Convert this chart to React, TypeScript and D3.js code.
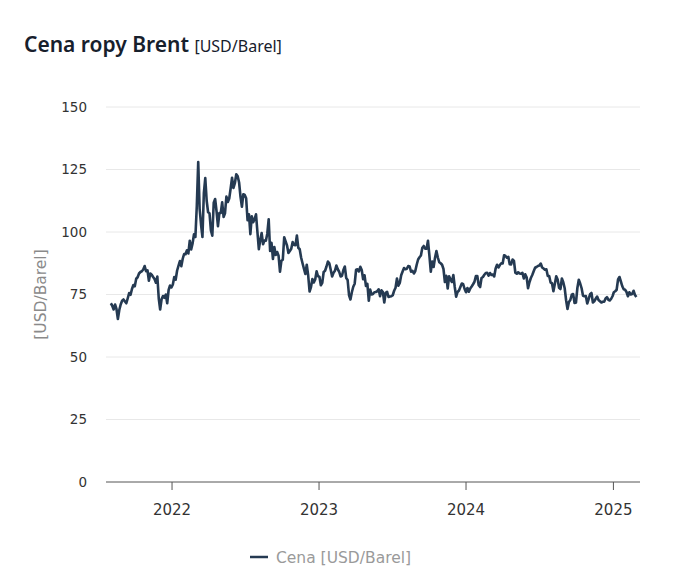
import * as d3 from "d3";
import React from "react";

const WIDTH = 697;
const HEIGHT = 571;
const FONT = "'DejaVu Sans', sans-serif";
const TITLE_FONT = "'Noto Sans', sans-serif";
const LINE_COLOR = "#253a52";

// Brent close, roughly twice a week (Mon / Thu)
const brent2021 = [
  71.5, 70.5, 69.0, 71.0, 69.2, 65.2, 68.8, 71.0, 72.5,
  73.0, 72.2, 71.5, 73.5, 75.6, 74.9, 77.2, 78.8, 78.3,
  81.3, 81.9, 83.4, 84.0, 84.3, 85.0, 86.4, 84.3,
  84.7, 80.5, 83.4, 82.9, 82.0, 81.2, 79.7, 82.2, 73.4,
  69.0, 73.1, 74.4, 73.7, 75.0, 71.5, 76.8, 78.6, 77.8,
];
const brent2022 = [
  79.0, 82.0, 80.9, 84.5, 86.5, 88.4, 86.3, 89.3, 91.2,
  91.1, 92.7, 91.4, 96.5, 93.0, 95.4, 99.1, 98.0,
  110.5, 128.0, 109.3, 103.0, 98.0, 115.6, 121.6, 112.5, 107.9,
  107.5, 100.6, 98.5, 111.7, 113.2, 108.3, 102.3, 107.6,
  107.6, 111.9, 106.0, 107.5, 114.2, 112.0, 113.4, 117.4, 121.7,
  117.6, 119.5, 123.1, 122.3, 119.8, 114.1, 110.1, 115.1, 114.8,
  113.5, 104.7, 107.1, 99.1, 106.3, 103.9, 105.2, 107.1,
  100.0, 93.1, 96.7, 99.6, 95.1, 96.6, 96.5, 99.3, 105.1,
  92.4, 95.7, 89.2, 94.0, 90.8, 92.0, 90.5, 84.1, 88.5,
  88.9, 97.9, 96.2, 94.6, 91.6, 92.4, 93.3, 96.0, 94.8,
  94.7, 98.6, 93.7, 93.1, 89.8, 87.5, 85.3, 83.2,
  86.9, 82.7, 76.2, 78.0, 81.2, 79.8, 81.0, 84.3, 82.3,
];
const brent2023 = [
  82.1, 78.7, 79.7, 84.0, 84.5, 86.2, 88.2, 87.5, 84.9,
  82.2, 83.7, 84.5, 86.6, 85.1, 84.1, 82.2, 82.5,
  84.8, 86.2, 81.6, 80.8, 74.7, 73.0, 75.9, 78.1, 79.3,
  84.9, 85.1, 84.2, 86.1, 84.8, 81.1, 82.7, 78.4,
  79.3, 72.5, 77.0, 75.0, 75.2, 75.9, 76.0, 76.3, 77.1,
  74.3, 76.7, 76.0, 71.8, 75.7, 76.1, 74.0, 74.2, 74.3,
  74.7, 76.5, 77.7, 81.4, 78.5, 79.6, 82.7, 84.2, 85.6,
  85.1, 85.3, 86.4, 86.2, 84.1, 84.5, 83.4, 84.4, 86.9,
  89.0, 89.9, 90.6, 93.7, 94.4, 93.3, 93.3, 96.5,
  90.7, 84.1, 88.2, 86.0, 89.7, 92.4, 89.8, 87.9, 87.5,
  86.9, 85.2, 80.0, 82.5, 77.4, 82.3, 81.0, 80.0, 82.8,
  78.0, 74.1, 76.0, 76.6, 78.0, 79.4, 79.1, 77.2,
];
const brent2024 = [
  75.9, 77.6, 76.1, 77.4, 78.2, 79.1, 80.1, 82.4, 82.4,
  78.7, 78.0, 81.6, 82.0, 82.9, 83.6, 83.7, 82.5, 83.6,
  82.8, 83.0, 82.2, 85.4, 86.9, 85.8, 86.8, 87.5,
  87.4, 90.7, 90.4, 89.7, 90.1, 87.1, 87.0, 89.0, 88.4,
  83.7, 83.3, 83.9, 83.4, 83.3, 83.7, 81.4, 83.1, 81.9,
  77.5, 79.9, 81.6, 82.8, 84.3, 85.7, 86.0, 86.4,
  86.6, 87.4, 85.8, 85.4, 84.9, 85.1, 82.4, 82.4, 79.8,
  79.5, 76.3, 79.2, 82.3, 81.0, 77.7, 77.2, 81.4, 79.9,
  77.5, 72.7, 69.2, 72.0, 72.8, 74.9, 75.2, 71.6, 71.8,
  77.6, 80.9, 79.4, 77.5, 74.5, 74.3, 74.4, 71.4, 73.2,
  75.1, 75.6, 71.8, 72.3, 73.3, 74.2, 72.8, 72.3,
  71.8, 72.1, 72.1, 73.4, 73.9, 72.9, 72.6, 73.3, 74.4,
];
const brent2025 = [
  75.9, 76.3, 76.9, 81.0, 82.0, 80.2, 78.3, 77.1, 76.9,
  76.0, 74.3, 75.9, 75.0, 75.2, 76.5, 74.8, 74.0,
];

const seriesByYear: [Date, number[]][] = [
  [new Date(2021, 7, 2), brent2021],
  [new Date(2022, 0, 3), brent2022],
  [new Date(2023, 0, 2), brent2023],
  [new Date(2024, 0, 1), brent2024],
  [new Date(2025, 0, 2), brent2025],
];

const yTicks = [0, 25, 50, 75, 100, 125, 150];
const xTickYears = [2022, 2023, 2024, 2025];

type Pt = { date: Date; value: number };

const points: Pt[] = seriesByYear.flatMap(([start, vals]) =>
  vals.map((v, i) => ({
    date: new Date(start.getTime() + i * 3.5 * 864e5),
    value: v,
  }))
);

export default function App() {
  const x = d3
    .scaleTime()
    .domain([new Date(2021, 6, 21), new Date(2025, 2, 8)])
    .range([106, 640]);
  const y = d3.scaleLinear().domain([0, 150]).range([482, 107]);

  const line = d3
    .line<Pt>()
    .x((d) => x(d.date))
    .y((d) => y(d.value));

  return (
    <svg
      width={WIDTH}
      height={HEIGHT}
      style={{ position: "absolute", left: 0, top: 0, background: "#fff" }}
      fontFamily={FONT}
    >
      <text x={24} y={52} fill="#17202c" fontFamily={TITLE_FONT}>
        <tspan fontSize={21} fontWeight={600}>Cena ropy Brent </tspan>
        <tspan fontSize={16}>[USD/Barel]</tspan>
      </text>

      {yTicks.map((t) => (
        <g key={t}>
          {t > 0 && (
            <line x1={106} x2={640} y1={y(t)} y2={y(t)} stroke="#e8e8e8" />
          )}
          <text
            x={87}
            y={y(t)}
            dy="0.35em"
            textAnchor="end"
            fontSize={13.5}
            fill="#333"
          >
            {t}
          </text>
        </g>
      ))}

      <text
        transform={`translate(46,${(y(0) + y(150)) / 2}) rotate(-90)`}
        textAnchor="middle"
        fontSize={15.5}
        fill="#8a8a8a"
      >
        [USD/Barel]
      </text>

      <line x1={106} x2={640} y1={y(0)} y2={y(0)} stroke="#555" />
      {xTickYears.map((yr) => {
        const px = x(new Date(yr, 0, 1));
        return (
          <g key={yr}>
            <line x1={px} x2={px} y1={y(0)} y2={y(0) + 8} stroke="#555" />
            <text x={px} y={515} textAnchor="middle" fontSize={15} fill="#333">
              {yr}
            </text>
          </g>
        );
      })}

      <path
        d={line(points) ?? ""}
        fill="none"
        stroke={LINE_COLOR}
        strokeWidth={2.6}
        strokeLinejoin="round"
      />

      <line x1={250} x2={268} y1={557} y2={557} stroke={LINE_COLOR} strokeWidth={2.5} />
      <text x={276} y={562.5} fontSize={15.5} fill="#9a9a9a">
        Cena [USD/Barel]
      </text>
    </svg>
  );
}
